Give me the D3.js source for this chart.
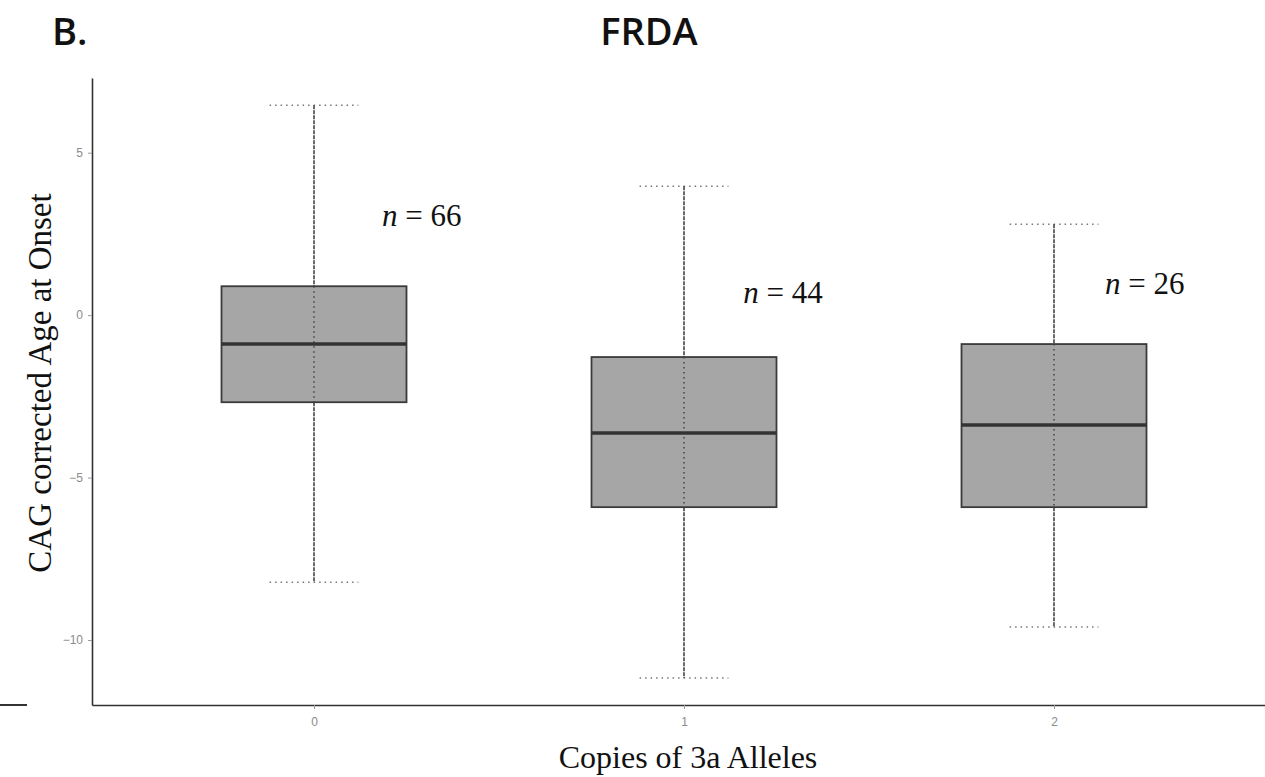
<!DOCTYPE html>
<html>
<head>
<meta charset="utf-8">
<script src="https://cdn.jsdelivr.net/npm/d3@7"></script>
<style>
    body { margin: 0; background: #fff; }
    svg { display: block; }
</style>
</head>
<body>
<svg id="drawing_region"></svg>
<script>
// data
const categories = ['0', '1', '2'];
const whisker_low  = [-8.22, -11.17, -9.60];
const box_q1       = [-2.68, -5.91, -5.91];
const box_median   = [-0.89, -3.63, -3.38];
const box_q3       = [0.89, -1.29, -0.89];
const whisker_high = [6.46, 3.97, 2.80];
const counts       = [66, 44, 26];
const label_y      = [2.75, 0.37, 0.65];
const label_dx     = [0.184, 0.16, 0.138];
const y_ticks      = [-10, -5, 0, 5];

const data = categories.map((c, i) => ({
    cat: c,
    lo: whisker_low[i],
    q1: box_q1[i],
    med: box_median[i],
    q3: box_q3[i],
    hi: whisker_high[i],
    n: counts[i],
    ly: label_y[i],
    ldx: label_dx[i]
}));

const width = 1265, height = 777;
const margin = { top: 78, right: -11, bottom: 72, left: 92 };

const svg = d3.select('#drawing_region')
    .attr('width', width)
    .attr('height', height);

const inner_width = width - margin.left - margin.right;
const inner_height = height - margin.top - margin.bottom;

const chart = svg.append('g')
    .attr('transform', `translate(${margin.left}, ${margin.top})`);

// 0 sits at y=314, 5 units = 162.5px
const yscale = d3.scaleLinear()
    .domain([-12.0, 7.3])
    .range([inner_height, 0]);

const xscale = d3.scalePoint()
    .domain(categories)
    .range([0, inner_width])
    .padding(0.6);

const step = xscale.step();
const box_w = step * 0.5;
const cap_w = step * 0.24;

// axes
const yaxis = d3.axisLeft(yscale).tickValues(y_ticks).tickSize(4).tickSizeOuter(0).tickPadding(5);
const xaxis = d3.axisBottom(xscale).tickSize(4).tickSizeOuter(0).tickPadding(8);

const yaxis_group = chart.append('g').call(yaxis);
const xaxis_group = chart.append('g')
    .attr('transform', `translate(0, ${inner_height})`)
    .call(xaxis);

[yaxis_group, xaxis_group].forEach(g => {
    g.select('.domain').attr('stroke', '#333').attr('stroke-width', 1.6);
    g.selectAll('.tick line').attr('stroke', '#999');
    g.selectAll('.tick text')
        .attr('fill', '#8a8a8a')
        .style('font-family', '"Liberation Sans", Arial, sans-serif')
        .style('font-size', '12px');
});

const groups = chart.selectAll('.box')
    .data(data)
    .enter()
    .append('g')
    .attr('class', 'box');

// whisker caps
['lo', 'hi'].forEach(k => {
    groups.append('line')
        .attr('x1', d => xscale(d.cat) - cap_w / 2)
        .attr('x2', d => xscale(d.cat) + cap_w / 2)
        .attr('y1', d => yscale(d[k]))
        .attr('y2', d => yscale(d[k]))
        .attr('stroke', '#777')
        .attr('stroke-width', 1.6)
        .attr('stroke-dasharray', '1.5,4');
});

// whiskers outside box
groups.append('line')
    .attr('x1', d => xscale(d.cat))
    .attr('x2', d => xscale(d.cat))
    .attr('y1', d => yscale(d.hi))
    .attr('y2', d => yscale(d.q3))
    .attr('stroke', '#3a3a3a')
    .attr('stroke-width', 1.5)
    .attr('stroke-dasharray', '4,1');

groups.append('line')
    .attr('x1', d => xscale(d.cat))
    .attr('x2', d => xscale(d.cat))
    .attr('y1', d => yscale(d.q1))
    .attr('y2', d => yscale(d.lo))
    .attr('stroke', '#3a3a3a')
    .attr('stroke-width', 1.5)
    .attr('stroke-dasharray', '4,1');

// boxes
groups.append('rect')
    .attr('x', d => xscale(d.cat) - box_w / 2)
    .attr('y', d => yscale(d.q3))
    .attr('width', box_w)
    .attr('height', d => yscale(d.q1) - yscale(d.q3))
    .attr('fill', '#a6a6a6')
    .attr('stroke', '#3a3a3a')
    .attr('stroke-width', 1.8);

// dotted line inside box
groups.append('line')
    .attr('x1', d => xscale(d.cat))
    .attr('x2', d => xscale(d.cat))
    .attr('y1', d => yscale(d.q3))
    .attr('y2', d => yscale(d.q1))
    .attr('stroke', '#444')
    .attr('stroke-width', 1.5)
    .attr('stroke-dasharray', '1.5,3.5');

// medians
groups.append('line')
    .attr('x1', d => xscale(d.cat) - box_w / 2)
    .attr('x2', d => xscale(d.cat) + box_w / 2)
    .attr('y1', d => yscale(d.med))
    .attr('y2', d => yscale(d.med))
    .attr('stroke', '#333')
    .attr('stroke-width', 3.5);

// n labels
const nlab = groups.append('text')
    .attr('x', d => xscale(d.cat) + step * d.ldx)
    .attr('y', d => yscale(d.ly))
    .attr('fill', '#111')
    .style('font-family', '"Liberation Serif", "Times New Roman", serif')
    .style('font-size', '31px');
nlab.append('tspan').style('font-style', 'italic').text('n');
nlab.append('tspan').text(d => ` = ${d.n}`);

// titles
svg.append('text')
    .attr('x', 52).attr('y', 45)
    .style('font-family', '"Open Sans", "Noto Sans", sans-serif')
    .style('font-weight', 600)
    .style('font-size', '38px')
    .attr('fill', '#111')
    .text('B.');

svg.append('text')
    .attr('x', 649).attr('y', 45)
    .attr('text-anchor', 'middle')
    .style('font-family', '"Open Sans", "Noto Sans", sans-serif')
    .style('font-weight', 600)
    .style('font-size', '38px')
    .attr('fill', '#111')
    .text('FRDA');

svg.append('text')
    .attr('transform', 'translate(51, 383) rotate(-90)')
    .attr('text-anchor', 'middle')
    .style('font-family', '"Liberation Serif", "Times New Roman", serif')
    .style('font-size', '33px')
    .attr('fill', '#111')
    .text('CAG corrected Age at Onset');

svg.append('text')
    .attr('x', 688).attr('y', 768)
    .attr('text-anchor', 'middle')
    .style('font-family', '"Liberation Serif", "Times New Roman", serif')
    .style('font-size', '32px')
    .attr('fill', '#111')
    .text('Copies of 3a Alleles');

// small stub at bottom left
svg.append('line')
    .attr('x1', 0).attr('x2', 27)
    .attr('y1', margin.top + inner_height).attr('y2', margin.top + inner_height)
    .attr('stroke', '#333').attr('stroke-width', 2);
</script>
</body>
</html>
